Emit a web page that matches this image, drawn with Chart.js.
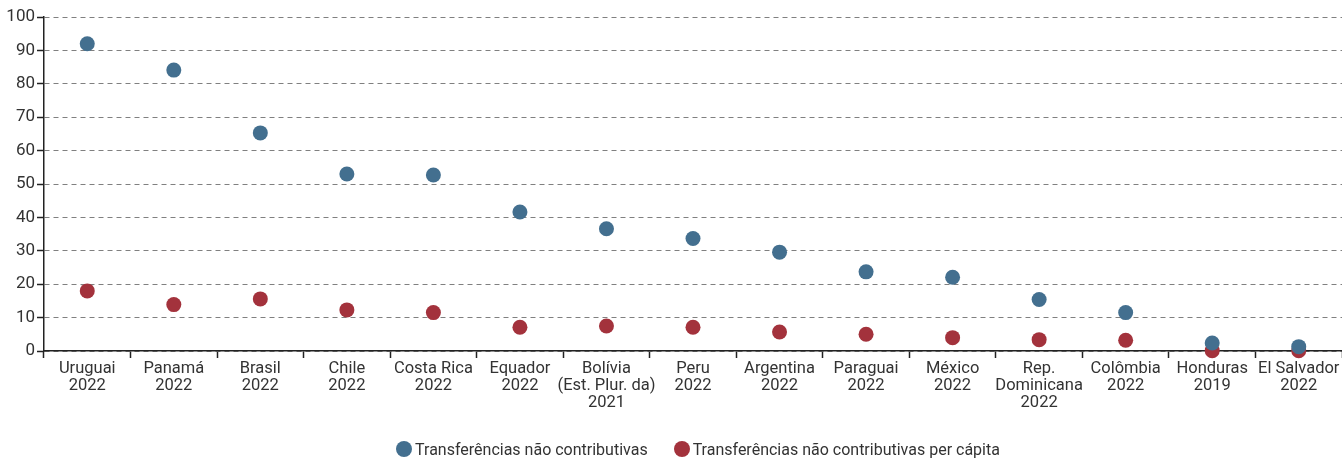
<!DOCTYPE html>
<html>
<head>
<meta charset="utf-8">
<script src="https://cdn.jsdelivr.net/npm/chart.js@4.4.1/dist/chart.umd.min.js"></script>
<style>
  html, body { margin: 0; padding: 0; background: #fff; overflow: hidden; }
  #wrap { width: 1342px; height: 459px; position: relative; }
  #legend {
    position: absolute; left: 27px; top: 439px; width: 1342px; height: 20px;
    display: flex; justify-content: center; align-items: center; gap: 26px;
    font-family: Roboto, sans-serif; font-size: 16px; color: #333;
  }
  #legend span.item { display: flex; align-items: center; }
  #legend span.dot { width: 16px; height: 16px; border-radius: 50%; margin-right: 3px; display: inline-block; }
</style>
</head>
<body>
<div id="wrap">
  <canvas id="chart"></canvas>
  <div id="legend"></div>
</div>
<script>
const countries = [
  ["Uruguai", "2022"],
  ["Panamá", "2022"],
  ["Brasil", "2022"],
  ["Chile", "2022"],
  ["Costa Rica", "2022"],
  ["Equador", "2022"],
  ["Bolívia", "(Est. Plur. da)", "2021"],
  ["Peru", "2022"],
  ["Argentina", "2022"],
  ["Paraguai", "2022"],
  ["México", "2022"],
  ["Rep.", "Dominicana", "2022"],
  ["Colômbia", "2022"],
  ["Honduras", "2019"],
  ["El Salvador", "2022"],
];

const transfers = [92, 84.1, 65.3, 53, 52.7, 41.6, 36.6, 33.7, 29.6, 23.7, 22.1, 15.4, 11.5, 2.4, 1.3];
const transfersPerCapita = [18, 13.9, 15.6, 12.3, 11.5, 7.1, 7.5, 7.1, 5.7, 5, 4, 3.4, 3.2, 0.1, 0.1];

const yTicks = [0, 10, 20, 30, 40, 50, 60, 70, 80, 90, 100];

const BLUE = "#436f8f";
const RED = "#a3323c";

Chart.defaults.font.family = "Roboto, sans-serif";
Chart.defaults.font.size = 16;
Chart.defaults.color = "#333";

const chart = new Chart(document.getElementById("chart").getContext("2d"), {
  type: "line",
  data: {
    labels: countries,
    datasets: [
      {
        label: "Transferências não contributivas",
        data: transfers,
        showLine: false,
        clip: false,
        pointRadius: 7.5,
        pointHoverRadius: 7.5,
        pointBackgroundColor: BLUE,
        pointBorderWidth: 0,
        backgroundColor: BLUE,
        borderColor: BLUE,
      },
      {
        label: "Transferências não contributivas per cápita",
        data: transfersPerCapita,
        showLine: false,
        clip: false,
        pointRadius: 7.5,
        pointHoverRadius: 7.5,
        pointBackgroundColor: RED,
        pointBorderWidth: 0,
        backgroundColor: RED,
        borderColor: RED,
      },
    ],
  },
  options: {
    responsive: true,
    maintainAspectRatio: false,
    animation: false,
    layout: { autoPadding: false, padding: { top: 17, right: 0, left: 0, bottom: 0 } },
    plugins: {
      legend: { display: false },
      tooltip: { enabled: false },
    },
    scales: {
      x: {
        offset: true,
        afterFit: function (scale) {
          scale.height = 108;
          scale.paddingLeft = 0;
          scale.paddingRight = 0;
        },
        grid: {
          offset: true,
          drawOnChartArea: false,
          drawTicks: true,
          tickLength: 7,
          tickColor: "#222",
          tickWidth: 1.5,
        },
        border: { color: "#222", width: 1.5 },
        ticks: {
          autoSkip: false,
          maxRotation: 0,
          padding: 2,
          color: "#333",
          font: { size: 16.5, lineHeight: 1.05 },
        },
      },
      y: {
        min: 0,
        max: 100,
        afterBuildTicks: function (scale) {
          scale.ticks = yTicks.map(function (v) { return { value: v }; });
        },
        afterFit: function (scale) { scale.width = 44; },
        grid: {
          color: "#808080",
          lineWidth: 1,
          tickLength: 7,
          tickColor: "#222",
          tickWidth: 1.5,
        },
        border: { color: "#222", width: 1.5, dash: [5, 4] },
        ticks: {
          padding: 2,
          color: "#333",
          font: { size: 17 },
        },
      },
    },
  },
});

// legend drawn as html so the item spacing matches the original
const legendBox = document.getElementById("legend");
chart.data.datasets.forEach(function (ds) {
  const item = document.createElement("span");
  item.className = "item";
  const dot = document.createElement("span");
  dot.className = "dot";
  dot.style.background = ds.pointBackgroundColor;
  item.appendChild(dot);
  item.appendChild(document.createTextNode(ds.label));
  legendBox.appendChild(item);
});
</script>
</body>
</html>
